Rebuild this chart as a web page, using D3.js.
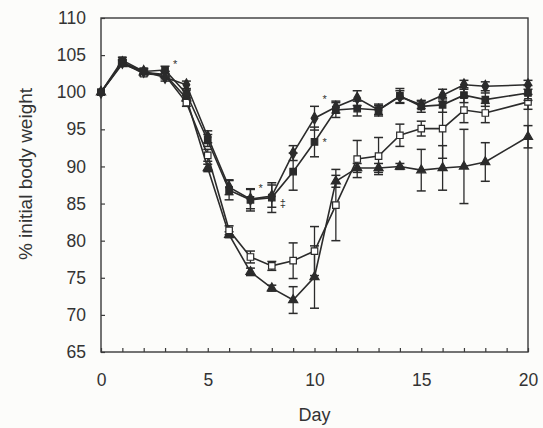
<!DOCTYPE html>
<html><head><meta charset="utf-8">
<script src="https://cdn.jsdelivr.net/npm/d3@7"></script>
<style>body{margin:0;background:#fcfcfa;} svg{display:block;font-family:"Liberation Sans",Arial,sans-serif;}</style>
</head><body><div id="chart"></div>
<script>
const days = [0,1,2,3,4,5,6,7,8,9,10,11,12,13,14,15,16,17,18,20];
const diamondVals = [100,104,102.8,102,101,94,87.2,85.6,86,91.8,96.5,98,99.2,97.6,99.4,98.3,99.6,101,100.8,101];
const diamondErr  = [0,0.4,0.4,0.5,0.5,0.8,1,1.3,1.5,1,1.6,0.8,1,0.6,0.8,0.5,0.8,0.6,0.6,0.6];
const squareVals  = [100,104.3,102.8,103,99.8,93.5,86.8,85.5,85.8,89.3,93.3,97.6,97.8,97.6,99.5,98.1,98.3,99.6,99,99.9];
const squareErr   = [0,0.4,0.4,0.5,0.5,0.8,1.3,1.5,2,2.5,2,1,1,0.8,1,0.8,1,1,0.9,1];
const openVals    = [100,104,102.5,102.3,98.6,91.5,81.4,77.8,76.6,77.3,78.6,84.8,91,91.4,94.2,95.1,95.1,97.6,97.2,98.7];
const openErr     = [0,0.3,0.3,0.5,0.5,0.8,0.6,0.8,0.6,2.4,3.3,4.8,2.5,2.5,1.5,1,4,1.7,1.3,1];
const triVals     = [100,103.8,102.7,102.4,99.2,89.8,80.8,75.8,73.6,72,75.1,88,89.8,89.8,90,89.5,89.8,90,90.6,94];
const triErr      = [0,0.3,0.3,0.4,0.4,0.5,0.4,0.5,0.4,1.8,4.2,0.8,0.6,0.6,0.4,2.8,3,5,2.6,1.5];
const xTicks = [0,5,10,15,20];
const yTicks = [65,70,75,80,85,90,95,100,105,110];
const marks = [
  {day:3, val:103.2, t:"*"},
  {day:7, val:86.6, t:"*"},
  {day:8, val:84.6, t:"‡"},
  {day:10, val:98.6, t:"*"},
  {day:10, val:92.8, t:"*"}
];

const W=543,H=428;
const m={l:101,t:18,r:15,b:76};
const svg=d3.select("#chart").append("svg").attr("width",W).attr("height",H);
svg.append("rect").attr("width",W).attr("height",H).attr("fill","#fcfcfa");
const x=d3.scaleLinear().domain([0,20]).range([m.l,W-m.r]);
const y=d3.scaleLinear().domain([65,110]).range([H-m.b,m.t]);
const ink="#2b2b2b";

svg.append("rect").attr("x",x(0)).attr("y",y(110)).attr("width",x(20)-x(0)).attr("height",y(65)-y(110))
  .attr("fill","none").attr("stroke","#3a3a3a").attr("stroke-width",1.4);

const xAxis=svg.append("g").attr("transform",`translate(0,${y(65)})`)
  .call(d3.axisBottom(x).tickValues(d3.range(0,21)).tickSize(-4).tickFormat(d=>xTicks.includes(d)?d:""));
xAxis.select(".domain").remove();
xAxis.selectAll("line").attr("stroke","#3a3a3a").attr("stroke-width",1.2);
xAxis.selectAll("text").attr("font-size","17.5px").attr("fill","#333").attr("y",22).attr("dy","0.71em");

const yAxis=svg.append("g").attr("transform",`translate(${x(0)},0)`)
  .call(d3.axisLeft(y).tickValues(yTicks).tickSize(-4).tickFormat(d=>d));
yAxis.select(".domain").remove();
yAxis.selectAll("line").attr("stroke","#3a3a3a").attr("stroke-width",1.2);
yAxis.selectAll("text").attr("font-size","17.5px").attr("fill","#333").attr("x",-15);

svg.append("text").attr("x",(x(0)+x(20))/2).attr("y",421).attr("text-anchor","middle")
  .attr("font-size","18px").attr("fill","#333").text("Day");
svg.append("text").attr("transform",`translate(32,174) rotate(-90)`).attr("text-anchor","middle")
  .attr("font-size","19px").attr("fill","#333").text("% initial body weight");

const series=[
  {vals:triVals,err:triErr,shape:"tri",fill:ink},
  {vals:openVals,err:openErr,shape:"sq",fill:"#fff"},
  {vals:squareVals,err:squareErr,shape:"sq",fill:ink},
  {vals:diamondVals,err:diamondErr,shape:"dia",fill:ink}
];
const line=d3.line().x(d=>x(d.d)).y(d=>y(d.v));
series.forEach(s=>{
  const pts=days.map((d,i)=>({d,v:s.vals[i],e:s.err[i]}));
  const g=svg.append("g");
  pts.filter(p=>p.e>0).forEach(p=>{
    const cx=x(p.d);
    g.append("line").attr("x1",cx).attr("x2",cx).attr("y1",y(p.v-p.e)).attr("y2",y(p.v+p.e)).attr("stroke",ink).attr("stroke-width",1.3);
    [p.v-p.e,p.v+p.e].forEach(v=>g.append("line").attr("x1",cx-4.5).attr("x2",cx+4.5).attr("y1",y(v)).attr("y2",y(v)).attr("stroke",ink).attr("stroke-width",1.5));
  });
  g.append("path").datum(pts).attr("d",line).attr("fill","none").attr("stroke",ink).attr("stroke-width",1.6);
  const sym = s.shape==="tri"? d3.symbolTriangle : s.shape==="dia"? d3.symbolDiamond : d3.symbolSquare;
  const size = s.shape==="tri"?36: s.shape==="dia"?40:42;
  g.selectAll(".pt").data(pts).join("path")
    .attr("transform",p=>`translate(${x(p.d)},${y(p.v)})`)
    .attr("d",d3.symbol().type(sym).size(size))
    .attr("fill",s.fill).attr("stroke",ink).attr("stroke-width",1.2);
});

svg.selectAll(".mk").data(marks).join("text")
  .attr("x",d=>x(d.day)+8).attr("y",d=>y(d.val)).attr("font-size","11px").attr("fill","#333").text(d=>d.t);
</script></body></html>
